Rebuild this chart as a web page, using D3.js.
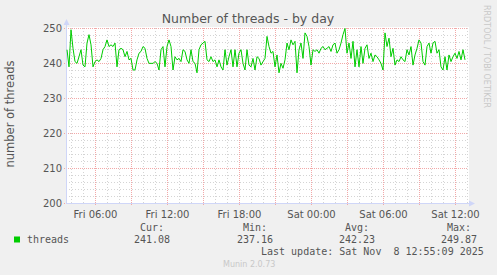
<!DOCTYPE html>
<html><head><meta charset="utf-8">
<script src="https://cdn.jsdelivr.net/npm/d3@7"></script>
<style>body{margin:0;background:#F0F0F0}svg{display:block}</style>
</head><body><svg id="c" width="497" height="275"></svg>
<script>
const title = "Number of threads - by day";
const yLabel = "number of threads";
const seriesName = "threads";
const sideText = "RRDTOOL / TOBI OETIKER";
const footer = "Munin 2.0.73";
const yTicks = [200, 210, 220, 230, 240, 250];
const startTime = new Date(2025, 10, 7, 3, 40);
const endTime = new Date(2025, 10, 8, 13, 0);
const stepMinutes = 10;
const threads = [
 243.8,238.9,249.5,244.2,240.4,239.9,241.8,243.8,239.4,238.9,245.7,248.1,245.2,238.9,240.4,
 240.9,240.4,241.3,243.8,244.7,246.6,244.7,245.2,244.7,245.7,238.9,243.8,244.2,243.8,241.8,
 243.3,240.9,241.3,238.0,238.0,240.9,242.8,243.3,244.7,244.2,241.3,239.9,239.9,239.9,240.4,
 239.9,238.0,243.8,244.7,238.9,244.7,246.6,244.7,238.0,241.8,240.9,241.3,240.4,243.8,243.3,
 240.9,239.9,243.8,240.4,239.9,237.2,243.8,245.2,245.7,246.2,240.9,240.4,241.8,240.4,240.9,
 238.9,240.9,238.9,238.0,243.8,239.4,241.8,243.8,238.9,243.8,238.9,242.8,243.8,239.9,238.0,
 243.8,239.4,
 238.9,241.3,238.0,241.8,241.3,
 239.4,240.4,241.3,247.6,244.7,
 242.8,243.3,238.9,242.3,237.2,
 239.9,238.5,240.9,245.7,243.8,
 246.6,245.2,246.2,237.2,243.8,
 245.7,241.3,248.6,247.6,244.7,
 239.4,243.8,243.3,243.8,242.8,
 244.2,244.7,243.8,244.2,244.7,
 243.3,245.2,245.7,242.8,243.8,
 245.7,248.1,249.87,242.8,245.7,
 241.3,246.2,238.9,243.8,238.9,
 244.7,239.9,244.2,245.2,241.3,
 242.8,240.4,242.3,241.8,240.9,
 239.9,238.0,248.6,244.7,247.1,
 241.8,244.2,239.4,240.9,240.4,
 241.8,240.9,240.4,243.8,242.3,
 244.7,239.4,242.3,244.2,246.6,
 245.7,240.4,239.4,244.7,245.7,
 242.8,245.7,246.2,242.8,243.8,
 238.9,238.0,241.8,238.0,242.3,
 240.4,241.8,242.8,241.3,243.3,
 240.9,243.8,240.9
];
const legendHeaders = ["Cur:", "Min:", "Avg:", "Max:"];
const legendValues = ["241.08", "237.16", "242.23", "249.87"];
const lastUpdate = "Last update: Sat Nov  8 12:55:09 2025";

const svg = d3.select("#c");
const L = 67, R = 467, T = 28, B = 203;
const x = d3.scaleTime().domain([startTime, endTime]).range([L, R]);
const y = d3.scaleLinear().domain([200, 250]).range([B, T]);
const px = v => Math.round(v) + 0.5;

svg.append("rect").attr("width", 497).attr("height", 275).attr("fill", "#F0F0F0");
svg.append("rect").attr("x", L).attr("y", T - 1).attr("width", R - L + 2).attr("height", B - T + 1).attr("fill", "#fff");

const grid = svg.append("g");
const minC = "#d4d4d4", majC = "#F2A8A8";
// minor horizontal
d3.range(200, 251, 2).filter(v => v % 10 !== 0).forEach(v => {
  grid.append("line").attr("x1", L - 1).attr("x2", R + 1).attr("y1", px(y(v))).attr("y2", px(y(v)))
    .attr("stroke", minC).attr("stroke-dasharray", "1,2");
});
// minor vertical
x.ticks(d3.timeHour.every(1)).forEach(t => {
  if (t.getHours() % 3 === 0) return;
  grid.append("line").attr("x1", px(x(t))).attr("x2", px(x(t))).attr("y1", T).attr("y2", B + 1)
    .attr("stroke", minC).attr("stroke-dasharray", "1,2");
});
// major horizontal
yTicks.forEach(v => {
  grid.append("line").attr("x1", L - 3).attr("x2", R + 1).attr("y1", px(y(v))).attr("y2", px(y(v)))
    .attr("stroke", majC).attr("stroke-dasharray", "1,1");
});
// major vertical
x.ticks(d3.timeHour.every(3)).forEach(t => {
  grid.append("line").attr("x1", px(x(t))).attr("x2", px(x(t))).attr("y1", T).attr("y2", B + 3)
    .attr("stroke", majC).attr("stroke-dasharray", "1,1");
});

// axes
const axC = "#CFD6F8";
svg.append("line").attr("x1", L - 0.5).attr("x2", L - 0.5).attr("y1", B).attr("y2", T - 4).attr("stroke", axC);
svg.append("line").attr("x1", L - 1).attr("x2", R + 4).attr("y1", B + 0.5).attr("y2", B + 0.5).attr("stroke", axC);
svg.append("path").attr("d", `M${L - 3.5},${T - 3}L${L - 0.5},${T - 9}L${L + 2.5},${T - 3}Z`).attr("fill", axC);
svg.append("path").attr("d", `M${R + 2},${B - 2.5}L${R + 8},${B + 0.5}L${R + 2},${B + 3.5}Z`).attr("fill", axC);

// y tick labels
const yAxis = d3.axisLeft(y).tickValues(yTicks).tickSize(0).tickPadding(5);
const gy = svg.append("g").attr("transform", `translate(${L},0)`).call(yAxis);
gy.select(".domain").remove();
gy.selectAll("text").attr("font-family", "DejaVu Sans").attr("font-size", 10).attr("fill", "#555").attr("dy", "0.35em");

// x tick labels
const xAxis = d3.axisBottom(x).ticks(d3.timeHour.every(6)).tickFormat(d3.timeFormat("%a %H:%M")).tickSize(0).tickPadding(8);
const gx = svg.append("g").attr("transform", `translate(0,${B})`).call(xAxis);
gx.select(".domain").remove();
gx.selectAll("text").attr("font-family", "DejaVu Sans").attr("font-size", 10).attr("fill", "#555");

// series
const line = d3.line()
  .x((d, i) => x(new Date(startTime.getTime() + i * stepMinutes * 60000)))
  .y(d => y(d));
svg.append("path").datum(threads).attr("d", line).attr("fill", "none")
  .attr("stroke", "#00CC00").attr("stroke-width", 1);

// title
svg.append("text").attr("x", 248).attr("y", 23).attr("text-anchor", "middle")
  .attr("font-family", "DejaVu Sans").attr("font-size", 12.5).attr("fill", "#555").text(title);
// y label
svg.append("text").attr("transform", "translate(14,114) rotate(-90)").attr("text-anchor", "middle")
  .attr("font-family", "DejaVu Sans").attr("font-size", 11.5).attr("fill", "#555").text(yLabel);
// side text
svg.append("text").attr("transform", "translate(484,5) rotate(90)").attr("text-anchor", "start")
  .attr("font-family", "DejaVu Sans").attr("font-size", 8).attr("fill", "#c8c8c8").text(sideText);

// legend
const mono = "DejaVu Sans Mono";
svg.append("rect").attr("x", 14).attr("y", 236.5).attr("width", 6).attr("height", 6).attr("fill", "#00CC00");
svg.append("text").attr("x", 27).attr("y", 243).attr("font-family", mono).attr("font-size", 10).attr("fill", "#555").text(seriesName);
const hdrX = [140, 243, 345, 447];
const valX = [134, 237, 339, 441];
legendHeaders.forEach((h, i) => {
  svg.append("text").attr("x", hdrX[i]).attr("y", 231).attr("font-family", mono).attr("font-size", 10).attr("fill", "#555").text(h);
  svg.append("text").attr("x", valX[i]).attr("y", 243).attr("font-family", mono).attr("font-size", 10).attr("fill", "#555").text(legendValues[i]);
});
svg.append("text").attr("x", 261).attr("y", 255).attr("font-family", mono).attr("font-size", 10).attr("fill", "#555")
  .style("white-space", "pre").text(lastUpdate);
svg.append("text").attr("x", 223).attr("y", 267).attr("font-family", "DejaVu Sans").attr("font-size", 8).attr("fill", "#c8c8c8").text(footer);
</script></body></html>
